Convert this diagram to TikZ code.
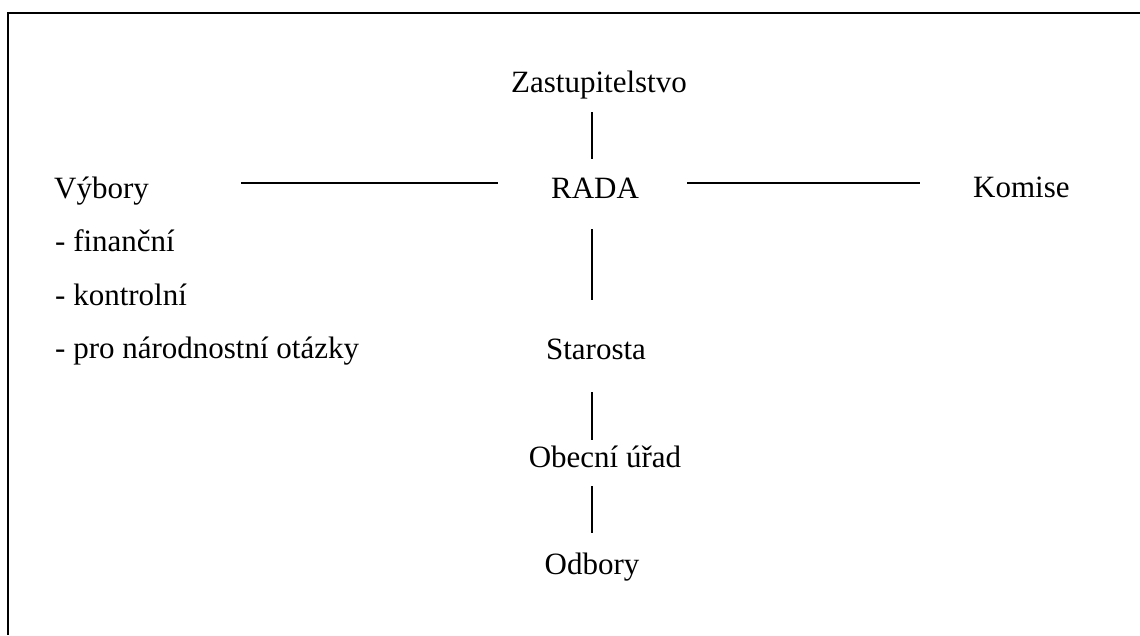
\documentclass[tikz,border=0pt]{standalone}
\usepackage{fontspec}
\setmainfont{Liberation Serif}
\begin{document}
\begin{tikzpicture}[x=1pt,y=-1pt,
  lbl/.style={inner sep=0pt,text height=22pt,text depth=7pt,
    font=\fontsize{31}{37}\selectfont},
  conn/.style={line width=1.5pt},
  frame/.style={line width=2pt}]
\useasboundingbox (0,0) rectangle (1140,635);
% open frame: top and left edges only
\draw[frame] (1140,13) -- (8,13) -- (8,635);

% central column
\node[lbl,anchor=base] (zast) at (599,92) {Zastupitelstvo};
\node[lbl,anchor=base] (rada) at (595,198) {RADA};
\node[lbl,anchor=base] (star) at (596,359) {Starosta};
\node[lbl,anchor=base] (urad) at (605,467) {Obecní úřad};
\node[lbl,anchor=base] (odb)  at (592,574) {Odbory};

% side branches
\node[lbl,anchor=base west] (vyb) at (54,198) {Výbory};
\node[lbl,anchor=base west] (fin) at (55,251) {- finanční};
\node[lbl,anchor=base west] (kon) at (55,305) {- kontrolní};
\node[lbl,anchor=base west] (nar) at (55,358) {- pro národnostní otázky};
\node[lbl,anchor=base west] (kom) at (973,197) {Komise};

% vertical connectors along the spine
\coordinate (spine) at (592,0);
\draw[conn,shorten <=13pt,shorten >=17pt] (zast.south -| spine) -- (rada.north -| spine);
\draw[conn,shorten <=24pt,shorten >=37pt] (rada.south -| spine) -- (star.north -| spine);
\draw[conn,shorten <=26pt,shorten >=5pt]  (star.south -| spine) -- (urad.north -| spine);
\draw[conn,shorten <=12pt,shorten >=19pt] (urad.south -| spine) -- (odb.north -| spine);

% horizontal connectors
\coordinate (hline) at (0,183);
\draw[conn,shorten <=92pt,shorten >=53pt] (vyb.east |- hline) -- (rada.west |- hline);
\draw[conn,shorten <=48pt,shorten >=53pt] (rada.east |- hline) -- (kom.west |- hline);
\end{tikzpicture}
\end{document}
